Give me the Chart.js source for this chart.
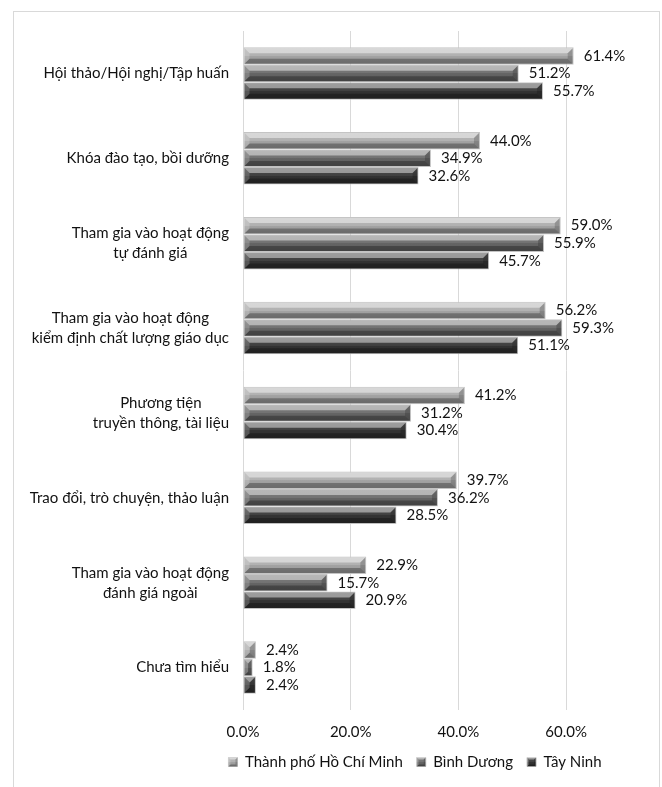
<!DOCTYPE html>
<html>
<head>
<meta charset="utf-8">
<script src="https://cdn.jsdelivr.net/npm/chart.js@4"></script>
<style>
  html, body { margin: 0; padding: 0; background: #fff; overflow: hidden; }
  #khung { position: absolute; left: 13px; top: 11px; width: 645px; height: 800px; border: 1px solid #d9d9d9; }
  #bieudo { position: absolute; left: 0; top: 0; }
</style>
</head>
<body>
<div id="khung"></div>
<canvas id="bieudo" width="662" height="787"></canvas>
<script>
/* Nhóm hình thức tiếp cận */
var nhom = [
  'Hội thảo/Hội nghị/Tập huấn',
  'Khóa đào tạo, bồi dưỡng',
  ['Tham gia vào hoạt động', 'tự đánh giá'],
  ['Tham gia vào hoạt động', 'kiểm định chất lượng giáo dục'],
  ['Phương tiện', 'truyền thông, tài liệu'],
  'Trao đổi, trò chuyện, thảo luận',
  ['Tham gia vào hoạt động', 'đánh giá ngoài'],
  'Chưa tìm hiểu'
];

/* Tỷ lệ (%) theo từng tỉnh */
var tpHCM     = [61.4, 44.0, 59.0, 56.2, 41.2, 39.7, 22.9, 2.4];
var binhDuong = [51.2, 34.9, 55.9, 59.3, 31.2, 36.2, 15.7, 1.8];
var tayNinh   = [55.7, 32.6, 45.7, 51.1, 30.4, 28.5, 20.9, 2.4];

var tenTinh = ['Thành phố Hồ Chí Minh', 'Bình Dương', 'Tây Ninh'];
var mauTinh = ['#adadad', '#6b6b6b', '#363636'];

/* Vạch trục ngang */
var mocTruc = [0, 20, 40, 60];
var nhanMoc = ['0.0%', '20.0%', '40.0%', '60.0%'];

var FONT = 'Lato, "Noto Sans", sans-serif';
var CO_CHU = 15;
var MAU_CHU = '#111';

/* vẽ hiệu ứng vát cạnh cho một hình chữ nhật */
function vatCanh(ctx, l, t, r, b, d) {
  d = Math.min(d, (r - l) / 2, (b - t) / 2);
  if (d <= 0) return;
  function da(pts, mau) {
    ctx.beginPath();
    ctx.moveTo(pts[0][0], pts[0][1]);
    for (var i = 1; i < pts.length; i++) ctx.lineTo(pts[i][0], pts[i][1]);
    ctx.closePath();
    ctx.fillStyle = mau;
    ctx.fill();
  }
  // thân: nửa trên sáng, nửa dưới tối
  var g = ctx.createLinearGradient(0, t, 0, b);
  g.addColorStop(0, 'rgba(255,255,255,0.12)');
  g.addColorStop(0.5, 'rgba(255,255,255,0.05)');
  g.addColorStop(0.5, 'rgba(0,0,0,0.06)');
  g.addColorStop(1, 'rgba(0,0,0,0.14)');
  ctx.fillStyle = g;
  ctx.fillRect(l, t, r - l, b - t);
  da([[l, t], [r, t], [r - d, t + d], [l + d, t + d]], 'rgba(255,255,255,0.45)');
  da([[l, b], [r, b], [r - d, b - d], [l + d, b - d]], 'rgba(0,0,0,0.28)');
  da([[l, t], [l + d, t + d], [l + d, b - d], [l, b]], 'rgba(255,255,255,0.18)');
  da([[r, t], [r - d, t + d], [r - d, b - d], [r, b]], 'rgba(0,0,0,0.18)');
}

var pluginVatCanh = {
  id: 'vatCanhThanh',
  afterDatasetDraw(chart, args) {
    var ctx = chart.ctx;
    ctx.save();
    args.meta.data.forEach(function (bar) {
      var p = bar.getProps(['x', 'y', 'base', 'height'], true);
      var t = p.y - p.height / 2, b = p.y + p.height / 2;
      vatCanh(ctx, Math.min(p.base, p.x) + 1, t + 1, Math.max(p.base, p.x) - 1, b - 1, 5);
    });
    ctx.restore();
  }
};

/* nhãn giá trị ở đầu mỗi thanh */
var pluginNhanGiaTri = {
  id: 'nhanGiaTri',
  afterDatasetsDraw(chart) {
    var ctx = chart.ctx;
    ctx.save();
    ctx.font = CO_CHU + 'px ' + FONT;
    ctx.fillStyle = MAU_CHU;
    ctx.textAlign = 'left';
    ctx.textBaseline = 'middle';
    chart.data.datasets.forEach(function (ds, i) {
      chart.getDatasetMeta(i).data.forEach(function (bar, j) {
        ctx.fillText(ds.data[j].toFixed(1) + '%', bar.x + 10, bar.y);
      });
    });
    ctx.restore();
  }
};

/* nhãn trục dọc: căn phải, các dòng căn giữa với nhau */
var pluginNhanNhom = {
  id: 'nhanNhom',
  afterDraw(chart) {
    var ctx = chart.ctx, y = chart.scales.y;
    var phai = chart.chartArea.left - 14, dong = 20;
    ctx.save();
    ctx.font = CO_CHU + 'px ' + FONT;
    ctx.fillStyle = MAU_CHU;
    ctx.textAlign = 'center';
    ctx.textBaseline = 'middle';
    nhom.forEach(function (nh, i) {
      var lines = Array.isArray(nh) ? nh : [nh];
      var rong = Math.max.apply(null, lines.map(function (s) { return ctx.measureText(s).width; }));
      var yc = y.getPixelForTick(i);
      lines.forEach(function (s, k) {
        ctx.fillText(s, phai - rong / 2, yc + (k - (lines.length - 1) / 2) * dong);
      });
    });
    // ô chú thích cũng vát cạnh
    var lg = chart.legend;
    if (lg && lg.legendHitBoxes) {
      lg.legendHitBoxes.forEach(function (h) {
        var top = h.top + (CO_CHU - 9) / 2;
        vatCanh(ctx, h.left, top, h.left + 9, top + 9, 2);
      });
    }
    ctx.restore();
  }
};

var bieuDo = new Chart(document.getElementById('bieudo').getContext('2d'), {
  type: 'bar',
  data: {
    labels: nhom,
    datasets: [
      { label: tenTinh[0], data: tpHCM,     backgroundColor: mauTinh[0] },
      { label: tenTinh[1], data: binhDuong, backgroundColor: mauTinh[1] },
      { label: tenTinh[2], data: tayNinh,   backgroundColor: mauTinh[2] }
    ]
  },
  options: {
    indexAxis: 'y',
    responsive: false,
    animation: false,
    layout: { padding: { left: 210, right: 42, top: 31, bottom: 7.5 } },
    datasets: {
      bar: {
        categoryPercentage: 0.62,
        barPercentage: 1,
        borderColor: '#c4c4c4',
        borderWidth: 1,
        borderSkipped: false
      }
    },
    scales: {
      x: {
        min: 0,
        max: 70,
        afterBuildTicks: function (s) { s.ticks = mocTruc.map(function (v) { return { value: v }; }); },
        afterFit: function (s) { s.height = 30.5; },
        ticks: {
          padding: 13,
          color: MAU_CHU,
          font: { family: FONT, size: CO_CHU },
          callback: function (v, i) { return nhanMoc[i]; }
        },
        grid: { color: '#d9d9d9', drawTicks: false },
        border: { display: false }
      },
      y: {
        afterFit: function (s) { s.width = 33; },
        ticks: { display: false },
        grid: { display: false },
        border: { display: false }
      }
    },
    plugins: {
      legend: {
        position: 'bottom',
        labels: {
          boxWidth: 9,
          boxHeight: 9,
          padding: 14,
          color: MAU_CHU,
          font: { family: FONT, size: CO_CHU }
        }
      },
      tooltip: { enabled: false }
    }
  },
  plugins: [pluginVatCanh, pluginNhanGiaTri, pluginNhanNhom]
});
</script>
</body>
</html>
